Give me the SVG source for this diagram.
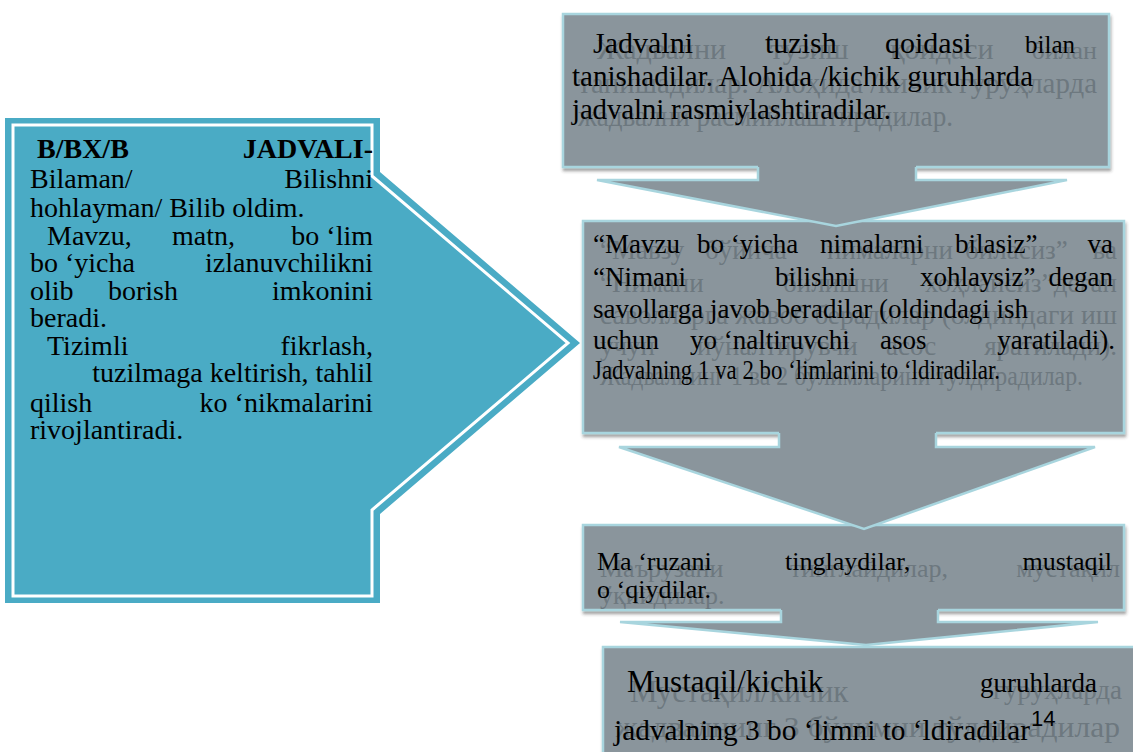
<svg xmlns="http://www.w3.org/2000/svg" width="1133" height="752" viewBox="0 0 1133 752">
<defs>
<style>
.t{font-family:"Liberation Serif","Times New Roman",serif;fill:#000}
.b{font-weight:bold}
.g{font-family:"Liberation Serif","Times New Roman",serif;fill:#6d787f}
.box{fill:#8a959c;stroke:#a8d5de;stroke-width:2.5}
.af{fill:#8a959c}
.as{fill:none;stroke:#a8d5de;stroke-width:2.5;stroke-linejoin:miter}
.l{font-size:28px}
.r1{font-size:29px}
.r2{font-size:27px}
.r3{font-size:26px}
</style>
<filter id="sh" x="-5%" y="-5%" width="110%" height="115%">
<feDropShadow dx="1" dy="3" stdDeviation="1.5" flood-color="#333" flood-opacity="0.45"/>
</filter>
</defs>
<rect width="1133" height="752" fill="#fff"/>

<g id="left-node">
<polygon points="5,118 380,118 380,172 580,343 380,514 380,603 5,603" fill="#4aabc5"/>
<polygon points="13,125 372,125 372,176 568,343 372,510 372,596 13,596" fill="none" stroke="#fff" stroke-width="3"/>
<g class="t l" font-family="Liberation Serif, Times New Roman, serif">
<text class="b" x="37" y="158">B/BX/B</text>
<text class="b" x="373" y="158" text-anchor="end">JADVALI-</text>
<text x="30" y="188">Bilaman/</text>
<text x="373" y="188" text-anchor="end">Bilishni</text>
<text x="30" y="217">hohlayman/ Bilib oldim.</text>
<text x="47" y="245">Mavzu,</text>
<text x="172" y="245">matn,</text>
<text x="373" y="245" text-anchor="end">bo ‘lim</text>
<text x="30" y="272">bo ‘yicha</text>
<text x="373" y="272" text-anchor="end">izlanuvchilikni</text>
<text x="30" y="300">olib</text>
<text x="108" y="300">borish</text>
<text x="373" y="300" text-anchor="end">imkonini</text>
<text x="30" y="327">beradi.</text>
<text x="47" y="355">Tizimli</text>
<text x="373" y="355" text-anchor="end">fikrlash,</text>
<text x="373" y="382" text-anchor="end">tuzilmaga keltirish, tahlil</text>
<text x="30" y="412">qilish</text>
<text x="373" y="412" text-anchor="end">ko ‘nikmalarini</text>
<text x="30" y="439">rivojlantiradi.</text>
</g>
</g>

<g id="step1">
<rect class="box" filter="url(#sh)" x="563" y="14" width="546" height="153"/>
<g class="g r1" font-family="Liberation Serif, Times New Roman, serif">
<text x="597" y="59" font-size="30">Жадвални</text>
<text x="770" y="59" font-size="30">тузиш</text>
<text x="890" y="59" font-size="30">қоидаси</text>
<text x="1097" y="59" text-anchor="end" font-size="26">билан</text>
<text x="578" y="93" textLength="519" lengthAdjust="spacingAndGlyphs">танишадилар. Алоҳида /кичик гуруҳларда</text>
<text x="578" y="126" textLength="375" lengthAdjust="spacingAndGlyphs">жадвални расмийлаштирадилар.</text>
</g>
<g class="t r1" font-family="Liberation Serif, Times New Roman, serif">
<text x="593" y="53" font-size="30">Jadvalni</text>
<text x="765" y="53" font-size="30">tuzish</text>
<text x="885" y="53" font-size="30">qoidasi</text>
<text x="1075" y="53" text-anchor="end" font-size="25">bilan</text>
<text x="572" y="86" textLength="461">tanishadilar. Alohida /kichik guruhlarda</text>
<text x="572" y="119" textLength="319">jadvalni rasmiylashtiradilar.</text>
</g>
</g>

<g id="step2">
<rect class="box" filter="url(#sh)" x="583" y="221" width="541" height="212"/>
<g class="g r2" font-family="Liberation Serif, Times New Roman, serif">
<text x="600" y="259">“Мавзу</text>
<text x="705" y="259">бўйича</text>
<text x="827" y="259">нималарни</text>
<text x="965" y="259">биласиз”</text>
<text x="1117" y="259" text-anchor="end">ва</text>
<text x="600" y="292">“Нимани</text>
<text x="783" y="292">билишни</text>
<text x="925" y="292">хоҳлайсиз”</text>
<text x="1117" y="292" text-anchor="end">деган</text>
<text x="600" y="324" textLength="517" lengthAdjust="spacingAndGlyphs">саволларга жавоб берадилар (олдиндаги иш</text>
<text x="600" y="355">учун</text>
<text x="697" y="355">йўналтирувчи</text>
<text x="886" y="355">асос</text>
<text x="1117" y="355" text-anchor="end">яратилади).</text>
<text x="600" y="385" textLength="483" lengthAdjust="spacingAndGlyphs">Жадвалнинг 1 ва 2 бўлимларини тўлдирадилар.</text>
</g>
<g class="t r2" font-family="Liberation Serif, Times New Roman, serif">
<text x="593" y="253">“Mavzu</text>
<text x="697" y="253">bo ‘yicha</text>
<text x="820" y="253">nimalarni</text>
<text x="955" y="253">bilasiz”</text>
<text x="1113" y="253" text-anchor="end">va</text>
<text x="593" y="286">“Nimani</text>
<text x="775" y="286">bilishni</text>
<text x="920" y="286">xohlaysiz”</text>
<text x="1113" y="286" text-anchor="end">degan</text>
<text x="593" y="318" textLength="435">savollarga javob beradilar (oldindagi ish</text>
<text x="593" y="349">uchun</text>
<text x="690" y="349">yo ‘naltiruvchi</text>
<text x="880" y="349">asos</text>
<text x="1115" y="349" text-anchor="end">yaratiladi).</text>
<text x="593" y="379" textLength="407" lengthAdjust="spacingAndGlyphs">Jadvalning 1 va 2 bo ‘limlarini to ‘ldiradilar.</text>
</g>
</g>

<g id="step3">
<rect class="box" filter="url(#sh)" x="583" y="525" width="541" height="85"/>
<g class="g r3" font-family="Liberation Serif, Times New Roman, serif">
<text x="600" y="577">Маърузани</text>
<text x="790" y="577">тинглайдилар,</text>
<text x="1120" y="577" text-anchor="end">мустақил</text>
<text x="600" y="604">ўқийдилар.</text>
</g>
<g class="t r3" font-family="Liberation Serif, Times New Roman, serif">
<text x="597" y="570">Ma ‘ruzani</text>
<text x="785" y="570">tinglaydilar,</text>
<text x="1112" y="570" text-anchor="end">mustaqil</text>
<text x="597" y="598">o ‘qiydilar.</text>
</g>
</g>

<g id="step4">
<rect class="box" filter="url(#sh)" x="603" y="647" width="537" height="113"/>
<g class="g" font-family="Liberation Serif, Times New Roman, serif">
<text x="630" y="702" font-size="31">Мустақил/кичик</text>
<text x="1122" y="699" text-anchor="end" font-size="27">гуруҳларда</text>
<text x="616" y="737" font-size="29" textLength="504" lengthAdjust="spacingAndGlyphs">жадвалнинг 3 бўлимни тўлдирадилар</text>
</g>
<g class="t" font-family="Liberation Serif, Times New Roman, serif">
<text x="627" y="692" font-size="31">Mustaqil/kichik</text>
<text x="1097" y="692" text-anchor="end" font-size="27">guruhlarda</text>
<text x="614" y="740" font-size="29" textLength="416" lengthAdjust="spacingAndGlyphs">jadvalning 3 bo ‘limni to ‘ldiradilar</text>
<text x="1031" y="726" font-size="22" font-family="Liberation Sans, Arial, sans-serif">14</text>
</g>
</g>

<g id="connectors">
<polygon class="af" points="758,164 916,164 916,180 1067,180 836,226 597,180 758,180"/>
<path class="as" d="M758,167 V180 H597 L836,226 L1067,180 H916 V167"/>
<polygon class="af" points="779,430 936,430 936,447 1095,447 864,529 619,447 779,447"/>
<path class="as" d="M779,433 V447 H619 L864,529 L1095,447 H936 V433"/>
<polygon class="af" points="781,607 938,607 938,622 1098,622 866,645 620,622 781,622"/>
<path class="as" d="M781,610 V622 H620 L866,645 L1098,622 H938 V610"/>
</g>
</svg>
